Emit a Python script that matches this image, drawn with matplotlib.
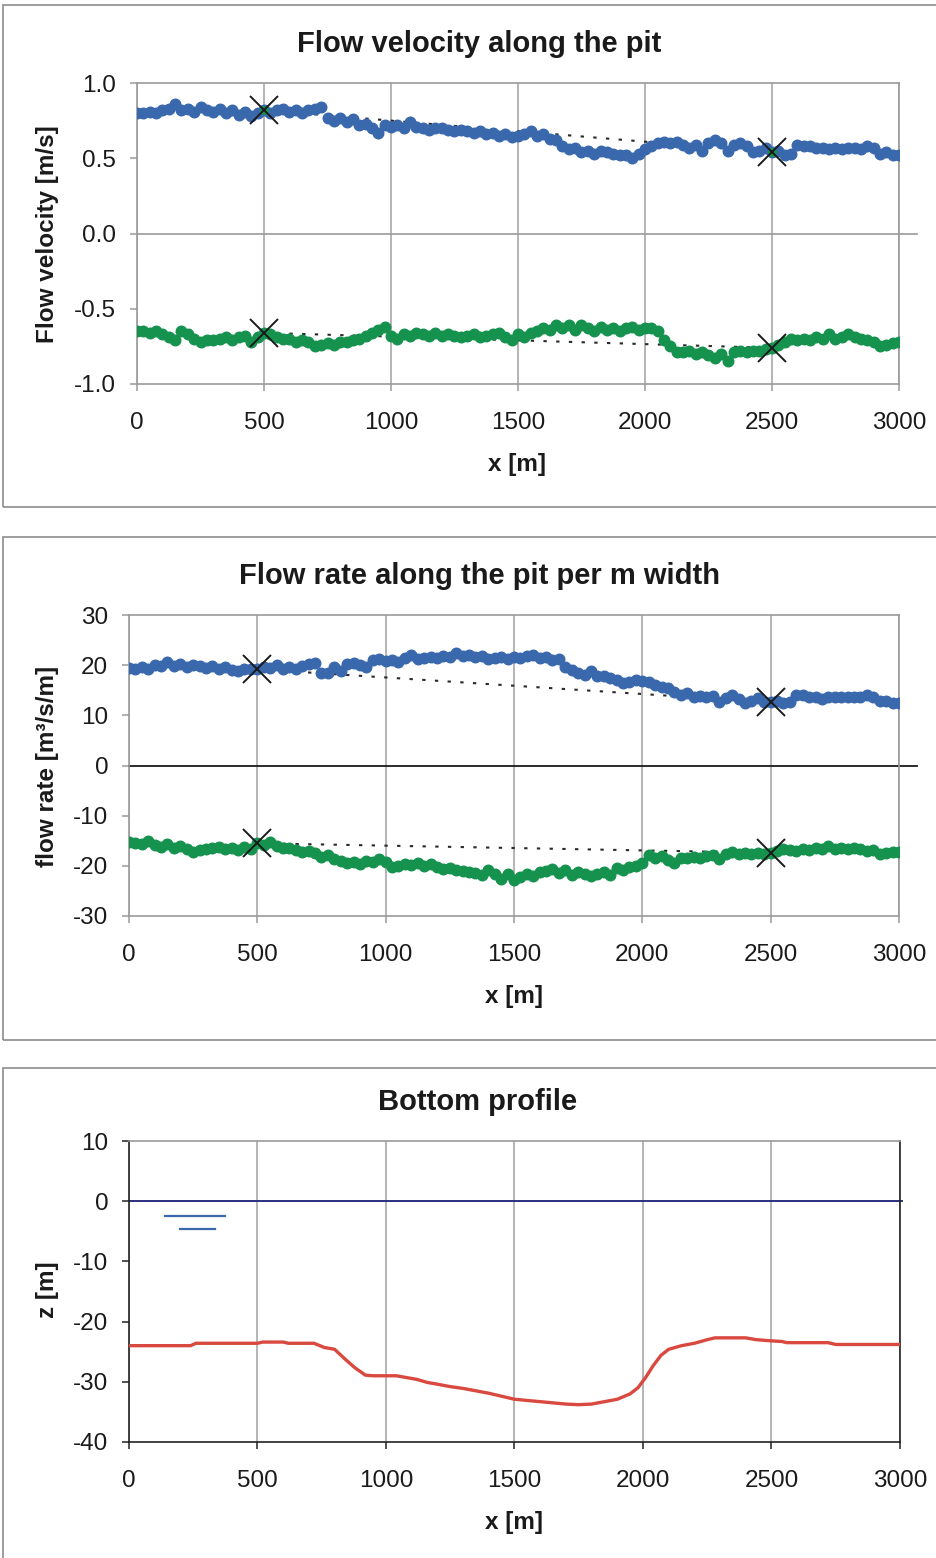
import numpy as np
import matplotlib
matplotlib.use("Agg")
import matplotlib.pyplot as plt
from matplotlib.patches import Rectangle

plt.rcParams['font.family'] = ['Liberation Sans', 'DejaVu Sans']
plt.rcParams['axes.unicode_minus'] = False

# ---------------------------------------------------------------- data
x_pts = np.arange(0, 3001, 25)

vel_pos = [0.80, 0.80, 0.81, 0.80, 0.82, 0.83, 0.86, 0.82, 0.83, 0.81,
           0.84, 0.82, 0.81, 0.83, 0.80, 0.82, 0.79, 0.81, 0.78, 0.80,
           0.82, 0.80, 0.82, 0.83, 0.81, 0.82, 0.80, 0.82, 0.83, 0.84,
           0.77, 0.75, 0.77, 0.74, 0.76, 0.72, 0.73, 0.70, 0.67, 0.72,
           0.71, 0.72, 0.70, 0.74, 0.71, 0.70, 0.69, 0.70, 0.70, 0.69,
           0.68, 0.69, 0.68, 0.67, 0.68, 0.66, 0.67, 0.65, 0.66, 0.64,
           0.65, 0.66, 0.68, 0.65, 0.66, 0.63, 0.62, 0.58, 0.56, 0.57,
           0.54, 0.55, 0.53, 0.55, 0.54, 0.53, 0.52, 0.52, 0.50, 0.53,
           0.56, 0.58, 0.60, 0.61, 0.60, 0.61, 0.59, 0.57, 0.59, 0.55,
           0.60, 0.62, 0.60, 0.55, 0.59, 0.60, 0.58, 0.54, 0.55, 0.57,
           0.54, 0.55, 0.52, 0.53, 0.59, 0.58, 0.58, 0.57, 0.57, 0.56,
           0.57, 0.56, 0.57, 0.57, 0.56, 0.58, 0.57, 0.53, 0.54, 0.52,
           0.52]

vel_neg = [-0.65, -0.65, -0.66, -0.65, -0.67, -0.69, -0.71, -0.65, -0.67, -0.70,
           -0.72, -0.71, -0.71, -0.70, -0.69, -0.71, -0.69, -0.68, -0.72, -0.69,
           -0.66, -0.67, -0.69, -0.70, -0.70, -0.72, -0.71, -0.72, -0.75, -0.74,
           -0.73, -0.74, -0.72, -0.72, -0.71, -0.70, -0.68, -0.66, -0.64, -0.62,
           -0.68, -0.70, -0.67, -0.68, -0.66, -0.67, -0.68, -0.66, -0.68, -0.67,
           -0.68, -0.69, -0.68, -0.67, -0.69, -0.68, -0.67, -0.66, -0.69, -0.71,
           -0.67, -0.69, -0.66, -0.65, -0.63, -0.64, -0.61, -0.63, -0.61, -0.64,
           -0.61, -0.63, -0.65, -0.62, -0.64, -0.63, -0.65, -0.63, -0.62, -0.64,
           -0.63, -0.63, -0.65, -0.71, -0.75, -0.79, -0.79, -0.78, -0.80, -0.79,
           -0.81, -0.83, -0.80, -0.85, -0.79, -0.78, -0.79, -0.78, -0.78, -0.77,
           -0.76, -0.74, -0.72, -0.70, -0.71, -0.70, -0.71, -0.69, -0.70, -0.67,
           -0.70, -0.69, -0.67, -0.69, -0.70, -0.71, -0.72, -0.75, -0.74, -0.73,
           -0.72]

rate_pos = [19.4, 19.2, 19.6, 19.3, 20.0, 19.8, 20.6, 19.8, 20.2, 19.6,
            20.1, 19.8, 19.5, 19.8, 19.2, 19.6, 19.0, 18.8, 19.2, 19.3,
            19.2, 19.6, 19.4, 20.0, 19.3, 19.6, 19.2, 19.8, 20.2, 20.4,
            18.4, 18.5, 19.6, 18.8, 20.2, 20.4, 20.0, 19.6, 21.0, 21.2,
            20.8, 21.0, 20.6, 21.4, 22.0, 21.2, 21.4, 21.6, 21.5, 21.8,
            21.6, 22.4, 21.8, 22.0, 21.6, 21.8, 21.3, 21.4, 21.6, 21.2,
            21.7, 21.4, 21.8, 22.0, 21.5, 21.6, 21.0, 21.2, 19.6, 19.0,
            18.4, 18.0, 18.8, 17.8, 17.8, 17.4, 17.0, 16.4, 16.6, 17.0,
            16.8, 16.6, 16.0, 15.6, 15.4, 14.6, 14.0, 14.4, 13.6, 13.8,
            13.7, 13.8, 12.7, 13.4, 14.0, 13.2, 12.4, 12.8, 13.4, 12.6,
            12.6, 12.9, 12.4, 12.6, 14.1, 14.0, 13.6, 13.6, 13.2, 13.6,
            13.6, 13.6, 13.6, 13.6, 13.6, 14.0, 13.6, 12.8, 12.8, 12.4,
            12.4]

rate_neg = [-15.2, -15.4, -15.6, -15.0, -15.8, -16.2, -15.6, -16.4, -16.0, -16.6,
            -17.2, -16.8, -16.6, -16.4, -16.2, -16.6, -16.4, -16.8, -16.2, -16.6,
            -15.5, -15.8, -15.2, -16.0, -16.4, -16.4, -16.8, -17.2, -17.0, -17.4,
            -18.2, -17.8, -18.6, -19.0, -19.4, -19.2, -19.6, -19.0, -19.2, -18.6,
            -19.2, -20.2, -20.0, -19.6, -19.8, -19.4, -20.0, -19.6, -20.2, -20.6,
            -20.4, -20.8, -21.0, -21.2, -21.4, -21.8, -20.8, -21.6, -22.6, -21.6,
            -22.8, -22.2, -21.6, -22.0, -21.2, -21.0, -20.6, -21.4, -20.8, -21.8,
            -21.2, -21.6, -22.0, -21.6, -21.2, -21.8, -20.4, -20.8, -20.2, -20.0,
            -19.4, -17.8, -18.4, -18.0, -18.8, -19.4, -18.4, -18.4, -18.2, -18.4,
            -18.0, -17.8, -18.6, -17.6, -17.2, -17.6, -17.4, -17.6, -17.4, -17.6,
            -17.4, -17.0, -16.6, -16.8, -17.0, -16.6, -16.8, -16.4, -16.6, -16.0,
            -16.6, -16.4, -16.6, -16.4, -16.6, -17.0, -16.8, -17.6, -17.4, -17.2,
            -17.2]

# reference sections where the profiles are compared (x positions)
ref_x = [500, 2500]

bed_x = [0, 240, 260, 500, 520, 600, 620, 720, 760, 800, 840, 880, 920, 950,
         1040, 1080, 1120, 1160, 1200, 1250, 1300, 1350, 1400, 1450, 1500,
         1550, 1600, 1650, 1700, 1750, 1800, 1850, 1900, 1950, 1980, 2010,
         2040, 2070, 2100, 2150, 2200, 2250, 2280, 2400, 2440, 2500, 2540,
         2560, 2720, 2750, 3000]
bed_z = [-24.0, -24.0, -23.6, -23.6, -23.4, -23.4, -23.6, -23.6, -24.3, -24.6,
         -26.2, -27.7, -28.9, -29.0, -29.0, -29.3, -29.6, -30.1, -30.4, -30.8,
         -31.1, -31.5, -31.9, -32.4, -32.9, -33.1, -33.3, -33.5, -33.7, -33.8,
         -33.7, -33.3, -32.9, -32.0, -31.0, -29.3, -27.3, -25.6, -24.6, -24.0,
         -23.6, -23.0, -22.7, -22.7, -23.0, -23.2, -23.3, -23.5, -23.5, -23.8,
         -23.8]

water_level = 0.0
x_ticks = [0, 500, 1000, 1500, 2000, 2500, 3000]

# ---------------------------------------------------------------- style
BLUE = '#3a68ad'
GREEN = '#16924f'
RED = '#d9493f'
NAVY = '#2c2f80'
GRID = '#b4b4b4'
FRAME = '#9a9a9a'
TICK_FS = 17.5
LABEL_FS = 17.5
TITLE_FS = 21

W, H = 937, 1558
fig = plt.figure(figsize=(W / 100, H / 100), dpi=100)
fig.patch.set_facecolor('white')


def px_axes(left, top, right, bottom):
    return fig.add_axes([left / W, 1 - bottom / H, (right - left) / W, (bottom - top) / H])


def panel_box(top, bottom):
    fig.patches.append(Rectangle((3 / W, 1 - bottom / H), (W - 2) / W, (bottom - top) / H,
                                 transform=fig.transFigure, fill=False,
                                 edgecolor='#8c8c8c', linewidth=1.2))


def style_axes(ax, yticks, ylim, spine_color):
    ax.set_xlim(0, 3000)
    ax.set_ylim(*ylim)
    ax.set_xticks(x_ticks)
    ax.set_yticks(yticks)
    ax.grid(axis='x', color=GRID, linewidth=1.4)
    ax.set_axisbelow(True)
    for s in ax.spines.values():
        s.set_color(spine_color)
        s.set_linewidth(1.2)
    ax.tick_params(axis='both', direction='out', length=5, width=1.1,
                   color=spine_color, labelsize=TICK_FS, colors='#1a1a1a')
    ax.tick_params(axis='y', pad=10)
    ax.tick_params(axis='x', pad=15.5)


def profile_panel(ax, ypos, yneg):
    # dotted comparison lines between the reference sections
    for ys in (ypos, yneg):
        yr = [ys[list(x_pts).index(r)] for r in ref_x]
        ax.plot(ref_x, yr, linestyle=(0, (1.6, 4.5)), color='#2a2a2a',
                linewidth=1.5, zorder=2)
    ax.plot(x_pts, ypos, 'o', color=BLUE, markersize=7.6, zorder=3)
    ax.plot(x_pts, yneg, 'o', color=GREEN, markersize=7.6, zorder=3)
    for ys in (ypos, yneg):
        yr = [ys[list(x_pts).index(r)] for r in ref_x]
        ax.plot(ref_x, yr, 'x', color='#1a1a1a', markersize=20,
                markeredgewidth=1.4, zorder=5)


# ---------------------------------------------------------------- panel 1
panel_box(5, 507)
ax1 = px_axes(137, 83, 899, 384)
style_axes(ax1, [-1.0, -0.5, 0.0, 0.5, 1.0], (-1.0, 1.0), FRAME)
ax1.yaxis.set_major_formatter(matplotlib.ticker.FormatStrFormatter('%.1f'))
ax1.axhline(0, xmin=0, xmax=1.024, color=FRAME, linewidth=1.2, clip_on=False, zorder=1)
profile_panel(ax1, vel_pos, vel_neg)
# highlight on the upper reference points
ax1.plot(ref_x, [vel_pos[list(x_pts).index(r)] for r in ref_x], 'o',
         color=GREEN, markersize=5.5, zorder=4)
fig.text(479 / W, 1 - 44 / H, 'Flow velocity along the pit', ha='center', va='center',
         fontsize=TITLE_FS, fontweight='bold', color='#1a1a1a')
fig.text(517 / W, 1 - 464 / H, 'x [m]', ha='center', va='center',
         fontsize=LABEL_FS, fontweight='bold', color='#1a1a1a')
fig.text(48 / W, 1 - 234 / H, 'Flow velocity [m/s]', ha='center', va='center',
         rotation=90, fontsize=LABEL_FS, fontweight='bold', color='#1a1a1a')

# ---------------------------------------------------------------- panel 2
panel_box(537, 1040)
ax2 = px_axes(129, 615, 899, 916)
style_axes(ax2, [-30, -20, -10, 0, 10, 20, 30], (-30, 30), FRAME)
ax2.axhline(0, xmin=0, xmax=1.0234, color='#1a1a1a', linewidth=1.3, clip_on=False, zorder=1)
profile_panel(ax2, rate_pos, rate_neg)
fig.text(480 / W, 1 - 576 / H, 'Flow rate along the pit per m width', ha='center',
         va='center', fontsize=TITLE_FS, fontweight='bold', color='#1a1a1a')
fig.text(514 / W, 1 - 996 / H, 'x [m]', ha='center', va='center',
         fontsize=LABEL_FS, fontweight='bold', color='#1a1a1a')
fig.text(48 / W, 1 - 766 / H, 'flow rate [m³/s/m]', ha='center', va='center',
         rotation=90, fontsize=LABEL_FS, fontweight='bold', color='#1a1a1a')

# ---------------------------------------------------------------- panel 3
panel_box(1068, 1575)
ax3 = px_axes(129, 1141, 900, 1442)
style_axes(ax3, [-40, -30, -20, -10, 0, 10], (-40, 10), '#222222')
ax3.spines['top'].set_color(FRAME)
ax3.axhline(water_level, xmin=0, xmax=1.003, color=NAVY, linewidth=1.4, clip_on=False, zorder=2)
ax3.plot([140, 374], [-2.5, -2.5], color=BLUE, linewidth=1.6, zorder=3)
ax3.plot([198, 335], [-4.6, -4.6], color=BLUE, linewidth=1.6, zorder=3)
ax3.plot(bed_x, bed_z, color=RED, linewidth=2.4, zorder=3, solid_joinstyle='round')
fig.text(478 / W, 1 - 1102 / H, 'Bottom profile', ha='center', va='center',
         fontsize=TITLE_FS, fontweight='bold', color='#1a1a1a')
fig.text(514 / W, 1 - 1523 / H, 'x [m]', ha='center', va='center',
         fontsize=LABEL_FS, fontweight='bold', color='#1a1a1a')
fig.text(48 / W, 1 - 1290 / H, 'z [m]', ha='center', va='center',
         rotation=90, fontsize=LABEL_FS, fontweight='bold', color='#1a1a1a')

fig.savefig('out.png', dpi=100, facecolor='white')
